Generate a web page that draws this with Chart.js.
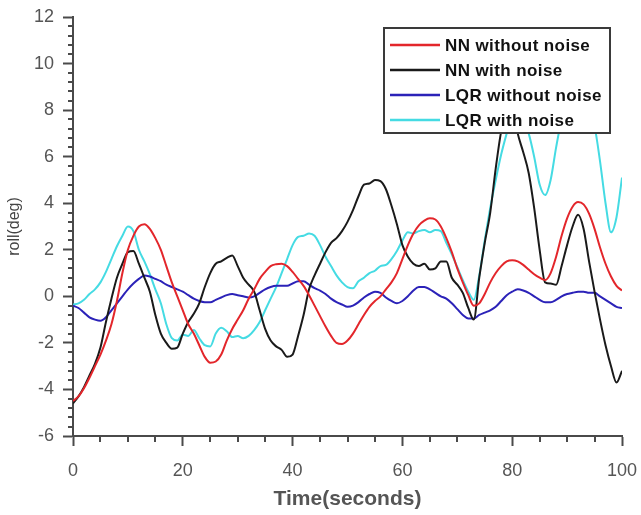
<!DOCTYPE html>
<html>
<head>
<meta charset="utf-8">
<script src="https://cdn.jsdelivr.net/npm/chart.js@4/dist/chart.umd.min.js"></script>
<style>
html,body{margin:0;padding:0;background:#fff;}
#wrap{width:641px;height:515px;}
</style>
</head>
<body>
<div id="wrap"><canvas id="c" width="641" height="515"></canvas></div>
<script>
const time = [0,1,2,3,4,5,6,7,8,9,10,11,12,13,14,15,16,17,18,19,20,21,22,23,24,25,26,27,28,29,30,31,32,33,34,35,36,37,38,39,40,41,42,43,44,45,46,47,48,49,50,51,52,53,54,55,56,57,58,59,60,61,62,63,64,65,66,67,68,69,70,71,72,73,74,75,76,77,78,79,80,81,82,83,84,85,86,87,88,89,90,91,92,93,94,95,96,97,98,99,100];

const nnWithoutNoise = [-4.5,-4.3,-3.95,-3.5,-3.0,-2.5,-1.9,-1.2,-0.2,1.0,2.0,2.6,3.0,3.1,2.9,2.5,2.0,1.3,0.6,0.0,
 -0.6,-1.2,-1.6,-2.1,-2.6,-2.85,-2.8,-2.5,-1.9,-1.4,-1.0,-0.6,-0.1,0.3,0.75,1.05,1.3,1.38,1.4,1.3,
 1.05,0.75,0.45,0.05,-0.4,-0.85,-1.3,-1.7,-2.0,-2.05,-1.9,-1.6,-1.2,-0.8,-0.45,-0.2,0.0,0.3,0.6,1.0,
 1.6,2.2,2.7,3.05,3.25,3.35,3.3,3.0,2.5,1.9,1.2,0.6,0.05,-0.4,-0.3,0.1,0.6,1.0,1.3,1.5,
 1.55,1.5,1.35,1.15,0.95,0.8,0.7,1.0,1.7,2.6,3.35,3.85,4.05,3.95,3.55,2.9,2.1,1.4,0.85,0.45,0.25];

const nnWithNoise = [-4.6,-4.3,-3.9,-3.4,-2.9,-2.2,-1.1,-0.1,0.8,1.4,1.9,1.95,1.4,0.8,0.2,-0.8,-1.6,-2.0,-2.25,-2.2,
 -1.6,-1.1,-0.75,-0.3,0.4,1.0,1.4,1.5,1.65,1.75,1.3,0.8,0.5,0.2,-0.6,-1.4,-1.9,-2.15,-2.3,-2.6,
 -2.5,-1.7,-0.8,0.3,0.9,1.4,1.9,2.3,2.5,2.8,3.2,3.7,4.3,4.8,4.85,5.0,4.95,4.6,3.9,3.1,
 2.2,1.7,1.4,1.3,1.4,1.15,1.2,1.5,1.5,0.8,0.5,0.15,-0.5,-1.0,0.8,2.3,3.6,5.5,7.1,8.0,
 8.2,7.0,6.2,5.3,3.8,2.0,0.6,0.55,0.5,1.3,2.2,3.0,3.5,2.9,1.5,0.2,-1.0,-2.1,-3.0,-3.7,-3.2];

const lqrWithoutNoise = [-0.4,-0.5,-0.7,-0.9,-1.0,-1.05,-0.9,-0.6,-0.3,0.0,0.3,0.55,0.75,0.9,0.85,0.75,0.65,0.5,0.4,0.3,
 0.2,0.05,-0.1,-0.2,-0.25,-0.25,-0.15,-0.05,0.05,0.1,0.05,0.0,-0.05,0.0,0.15,0.3,0.4,0.45,0.45,0.45,
 0.55,0.65,0.65,0.5,0.35,0.25,0.1,-0.1,-0.25,-0.35,-0.45,-0.4,-0.25,-0.05,0.1,0.2,0.15,-0.05,-0.2,-0.3,
 -0.2,0.0,0.25,0.4,0.4,0.3,0.15,0.0,-0.1,-0.3,-0.55,-0.8,-0.95,-0.95,-0.8,-0.7,-0.6,-0.45,-0.2,0.05,
 0.2,0.3,0.25,0.15,0.0,-0.15,-0.25,-0.25,-0.15,0.0,0.1,0.15,0.2,0.2,0.15,0.15,0.0,-0.15,-0.3,-0.45,-0.5];

const lqrWithNoise = [-0.35,-0.3,-0.15,0.1,0.3,0.6,1.05,1.6,2.15,2.6,3.0,2.8,2.0,1.5,0.95,0.3,-0.3,-1.2,-1.8,-1.9,
 -1.65,-1.7,-1.45,-1.8,-2.1,-2.15,-1.6,-1.35,-1.5,-1.75,-1.7,-1.8,-1.7,-1.45,-1.1,-0.6,-0.1,0.4,1.0,1.6,
 2.2,2.55,2.6,2.7,2.6,2.2,1.7,1.3,0.9,0.6,0.4,0.35,0.65,0.8,1.0,1.1,1.3,1.35,1.6,1.95,
 2.4,2.75,2.7,2.8,2.85,2.75,2.85,2.8,2.3,1.8,1.25,0.7,0.2,-0.15,0.9,2.4,3.8,5.0,6.1,7.0,
 7.8,8.0,7.6,7.0,6.0,4.8,4.35,5.0,6.4,7.6,8.3,8.6,8.6,8.4,7.9,7.3,5.8,4.0,2.75,3.4,5.1];

const seriesNames = ['NN without noise','NN with noise','LQR without noise','LQR with noise'];
const seriesColors = ['#e3262b','#1a1a1a','#2b22b8','#45dbe3'];
const xTicks = [0,20,40,60,80,100];
const yTicks = [-6,-4,-2,0,2,4,6,8,10,12];

const seriesData = [nnWithoutNoise, nnWithNoise, lqrWithoutNoise, lqrWithNoise];
const datasets = seriesData.map((vals, i) => ({
  label: seriesNames[i],
  data: vals.map((v, k) => ({x: time[k], y: v})),
  borderColor: seriesColors[i],
  backgroundColor: seriesColors[i],
  borderWidth: 2,
  pointRadius: 0,
  fill: false,
  cubicInterpolationMode: 'monotone'
}));

const AXIS = '#4a4a4a';
const FONT = "'Liberation Sans', Arial, sans-serif";

const minorTicks = {
  id: 'minorTicks',
  afterDraw(chart) {
    const ctx = chart.ctx;
    const xs = chart.scales.x, ys = chart.scales.y;
    ctx.save();
    ctx.strokeStyle = AXIS;
    ctx.lineWidth = 2;
    ctx.beginPath();
    for (let v = xs.min; v <= xs.max + 1e-9; v += 5) {
      if (Math.abs(v % 20) < 1e-9) continue;
      const px = Math.round(xs.getPixelForValue(v));
      ctx.moveTo(px, ys.bottom);
      ctx.lineTo(px, ys.bottom + 6);
    }
    for (let k = 0; k <= 45; k++) {
      const v = ys.min + k * 0.4;
      if (k % 5 === 0) continue;
      const py = Math.round(ys.getPixelForValue(v));
      ctx.moveTo(xs.left, py);
      ctx.lineTo(xs.left - 5, py);
    }
    ctx.stroke();
    ctx.restore();
  }
};

const boxLegend = {
  id: 'boxLegend',
  afterDatasetsDraw(chart) {
    const ctx = chart.ctx;
    const ca = chart.chartArea;
    const x0 = ca.right - 238, y0 = ca.top + 11, w = 226, h = 105;
    ctx.save();
    ctx.fillStyle = '#fff';
    ctx.fillRect(x0, y0, w, h);
    ctx.strokeStyle = '#3a3a3a';
    ctx.lineWidth = 2;
    ctx.strokeRect(x0, y0, w, h);
    ctx.font = "bold 17px " + FONT;
    if ('letterSpacing' in ctx) ctx.letterSpacing = '0.4px';
    ctx.textBaseline = 'middle';
    ctx.textAlign = 'left';
    chart.data.datasets.forEach((ds, i) => {
      const yy = y0 + 17 + i * 25;
      ctx.strokeStyle = ds.borderColor;
      ctx.lineWidth = 2.5;
      ctx.beginPath();
      ctx.moveTo(x0 + 6, yy);
      ctx.lineTo(x0 + 56, yy);
      ctx.stroke();
      ctx.fillStyle = '#111';
      ctx.fillText(ds.label, x0 + 61, yy + 1);
    });
    ctx.restore();
  }
};

new Chart(document.getElementById('c'), {
  type: 'line',
  data: { datasets },
  options: {
    responsive: false,
    animation: false,
    events: [],
    layout: { padding: { left: 0, right: 19, top: 17, bottom: 0 } },
    plugins: { legend: { display: false }, tooltip: { enabled: false } },
    scales: {
      x: {
        type: 'linear',
        min: 0, max: 100,
        afterFit(s) { s.height = 79; s.paddingLeft = 0; s.paddingRight = 0; },
        afterBuildTicks(s) { s.ticks = xTicks.map(v => ({value: v})); },
        ticks: { color: '#555', font: { family: FONT, size: 18 }, padding: 14, maxRotation: 0, autoSkip: false },
        grid: { display: true, drawOnChartArea: false, drawTicks: true, tickLength: 10, tickColor: AXIS, tickWidth: 2 },
        border: { display: true, color: AXIS, width: 2 },
        title: { display: true, text: 'Time(seconds)', color: '#555', font: { family: FONT, size: 21, weight: 'bold' }, padding: { top: 0, bottom: 3 } }
      },
      y: {
        type: 'linear',
        min: -6, max: 12,
        afterFit(s) { s.width = 73; s.paddingTop = 0; s.paddingBottom = 0; },
        afterBuildTicks(s) { s.ticks = yTicks.map(v => ({value: v})); },
        ticks: { color: '#555', font: { family: FONT, size: 18 }, padding: 9, autoSkip: false },
        grid: { display: true, drawOnChartArea: false, drawTicks: true, tickLength: 10, tickColor: AXIS, tickWidth: 2 },
        border: { display: true, color: AXIS, width: 2 },
        title: { display: true, text: 'roll(deg)', color: '#444', font: { family: FONT, size: 16 }, padding: { top: 5, bottom: 0 } }
      }
    }
  },
  plugins: [minorTicks, boxLegend]
});
</script>
</body>
</html>
